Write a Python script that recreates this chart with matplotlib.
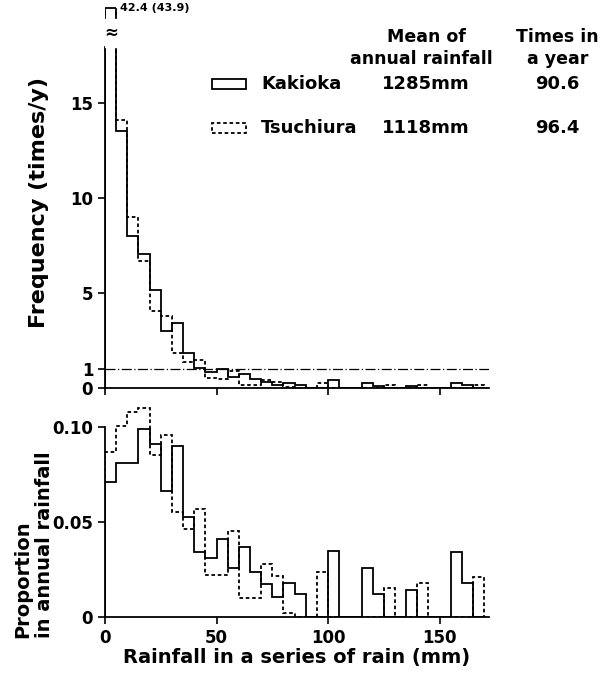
import numpy as np
import matplotlib
matplotlib.use("Agg")
import matplotlib.pyplot as plt
from matplotlib.patches import Rectangle

# ---- data (5 mm bins, 0-170 mm) ----
bin_edges = np.arange(0, 175, 5)

# frequency (times / year)
freq_kakioka = [42.4, 13.5, 8.0, 7.05, 5.15, 3.0, 3.4, 1.82, 1.04, 0.84,
                1.0, 0.58, 0.76, 0.45, 0.31, 0.17, 0.28, 0.18, 0, 0,
                0.44, 0, 0, 0.28, 0.13, 0, 0, 0.13, 0, 0,
                0, 0.28, 0.14, 0]
freq_tsuchiura = [43.9, 14.1, 9.0, 6.7, 4.05, 3.8, 1.85, 1.39, 1.49, 0.52,
                  0.47, 0.88, 0.18, 0.16, 0.43, 0.31, 0.03, 0, 0, 0.27,
                  0, 0, 0, 0, 0, 0.135, 0, 0, 0.14, 0,
                  0, 0, 0, 0.14]

# proportion in annual rainfall
prop_kakioka = [0.071, 0.081, 0.081, 0.099, 0.091, 0.0665, 0.090, 0.0525, 0.0344, 0.031,
                0.041, 0.026, 0.037, 0.0235, 0.0174, 0.0104, 0.018, 0.0121, 0, 0,
                0.035, 0, 0, 0.026, 0.0123, 0, 0, 0.0144, 0, 0,
                0, 0.0342, 0.0179, 0]
prop_tsuchiura = [0.0867, 0.1007, 0.108, 0.110, 0.0854, 0.0958, 0.0554, 0.0463, 0.0566, 0.022,
                  0.022, 0.0452, 0.010, 0.010, 0.028, 0.0215, 0.002, 0, 0, 0.0235,
                  0, 0, 0, 0, 0, 0.0154, 0, 0, 0.0179, 0,
                  0, 0, 0, 0.021]

stations = ["Kakioka", "Tsuchiura"]
mean_rain = ["1285mm", "1118mm"]
times_year = ["90.6", "96.4"]

plt.rcParams['font.family'] = 'DejaVu Sans'
plt.rcParams['font.weight'] = 'bold'

SOLID = dict(color="black", lw=1.3, ls="-")
DASH = dict(color="black", lw=1.3, ls=(0, (2, 1.5)))

fig = plt.figure(figsize=(6.07, 6.75), dpi=100)
ax1 = fig.add_axes([0.173, 0.4252, 0.632, 0.5742])
ax2 = fig.add_axes([0.173, 0.0859, 0.632, 0.3237])

#==== top : frequency ====#
ax1.stairs(freq_tsuchiura, bin_edges, **DASH)
ax1.stairs(freq_kakioka, bin_edges, **SOLID)
ax1.set_xlim(0, 172)
ax1.set_ylim(0, 20.4)

# broken first bar
gap_lo, gap_hi, cap = 17.95, 19.4, 20.0
ax1.fill_between([-0.5, 5.6], gap_lo, gap_hi, color="white", zorder=3)
ax1.fill_between([-0.5, 5.6], cap + 0.05, 20.4, color="white", zorder=3)
ax1.hlines(cap, 0, 5, zorder=4, **SOLID)
ax1.text(2.6, (gap_lo + gap_hi) / 2, "\u2248", ha="center", va="center",
         fontsize=12, zorder=5)
ax1.text(6.5, cap, "%.1f (%.1f)" % (freq_kakioka[0], freq_tsuchiura[0]),
         fontsize=8, fontweight="bold", va="center", ha="left")

ax1.axhline(1, color="black", lw=0.9, ls=(0, (8, 2, 1, 2)))

ax1.spines['top'].set_visible(False)
ax1.spines['right'].set_visible(False)
ax1.spines['left'].set_bounds(0, gap_lo)
ax1.spines['left'].set_linewidth(1.3)
ax1.spines['bottom'].set_linewidth(1.3)
ax1.set_yticks([0, 1, 5, 10, 15])
ax1.set_xticks([0, 50, 100, 150])
ax1.set_xticklabels([])
ax1.tick_params(direction="out", length=5, width=1.2, labelsize=12)

fig.text(0.064, 0.70, "Frequency (times/y)", rotation=90, ha="center",
         va="center", fontsize=16, fontweight="bold")

# legend table
ax1.text(144, 18.45, "Mean of", ha="center", va="center", fontsize=12.5)
ax1.text(142, 17.3, "annual rainfall", ha="center", va="center", fontsize=12.5)
ax1.text(203, 18.45, "Times in", ha="center", va="center", fontsize=12.5)
ax1.text(203, 17.3, "a year", ha="center", va="center", fontsize=12.5)
row_y = [16.0, 13.7]
styles = [SOLID, DASH]
for i in range(2):
    ax1.add_patch(Rectangle((48, row_y[i] - 0.27), 15, 0.54, fill=False,
                            clip_on=False, **styles[i]))
    ax1.text(70, row_y[i], stations[i], ha="left", va="center", fontsize=13)
    ax1.text(144, row_y[i], mean_rain[i], ha="center", va="center", fontsize=13)
    ax1.text(203, row_y[i], times_year[i], ha="center", va="center", fontsize=13)

#==== bottom : proportion ====#
ax2.stairs(prop_tsuchiura, bin_edges, **DASH)
ax2.stairs(prop_kakioka, bin_edges, **SOLID)
ax2.set_xlim(0, 172)
ax2.set_ylim(0, 0.115)
ax2.spines['top'].set_visible(False)
ax2.spines['right'].set_visible(False)
ax2.spines['left'].set_bounds(0, 0.10)
ax2.spines['left'].set_linewidth(1.3)
ax2.spines['bottom'].set_linewidth(1.3)
ax2.set_yticks([0, 0.05, 0.10])
ax2.set_yticklabels(["0", "0.05", "0.10"])
ax2.set_xticks([0, 50, 100, 150])
ax2.tick_params(direction="out", length=5, width=1.2, labelsize=12)
ax2.set_xlabel("Rainfall in a series of rain (mm)", fontsize=14,
               fontweight="bold", labelpad=1)

fig.text(0.038, 0.055, "Proportion", rotation=90, ha="center", va="bottom",
         fontsize=14, fontweight="bold")
fig.text(0.073, 0.055, "in annual rainfall", rotation=90, ha="center",
         va="bottom", fontsize=14, fontweight="bold")

fig.savefig("out.png", dpi=100)
